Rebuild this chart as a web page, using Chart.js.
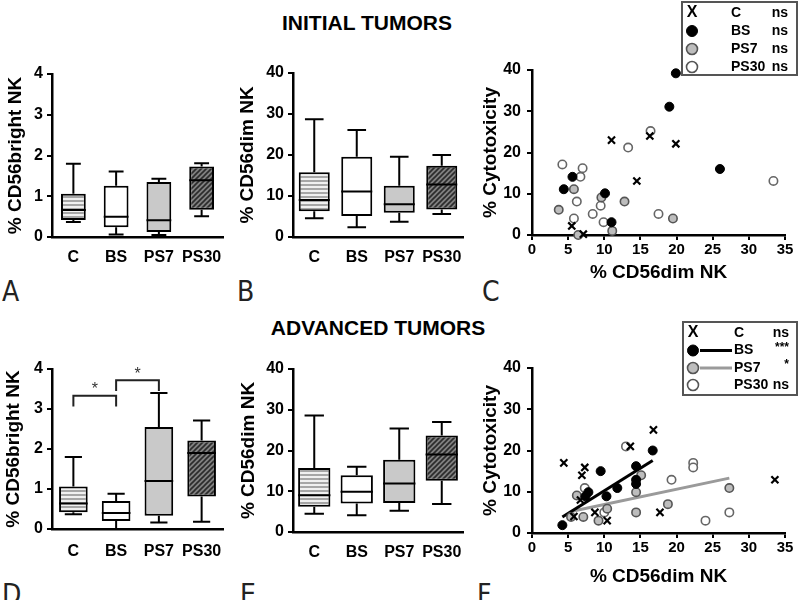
<!DOCTYPE html>
<html>
<head>
<meta charset="utf-8">
<script src="https://cdn.jsdelivr.net/npm/chart.js@4/dist/chart.umd.min.js"></script>
<style>
body { margin: 0; width: 800px; height: 600px; background: #fff; position: relative; overflow: hidden; font-family: "Liberation Sans", Arial, sans-serif; }
canvas { position: absolute; }
.head { position: absolute; width: 400px; text-align: center; font-weight: bold; font-size: 21px; color: #000; }
.letter { position: absolute; font-family: "Liberation Sans Narrow", "DejaVu Sans Condensed", sans-serif; font-size: 28px; color: #222; }
</style>
</head>
<body>
<div class="head" style="left:167px; top:11px">INITIAL TUMORS</div>
<div class="head" style="left:178px; top:316px">ADVANCED TUMORS</div>
<div class="letter" style="left:2px; top:275px">A</div>
<div class="letter" style="left:237px; top:275px">B</div>
<div class="letter" style="left:482px; top:275px">C</div>
<div class="letter" style="left:2px; top:578px">D</div>
<div class="letter" style="left:240px; top:578px">E</div>
<div class="letter" style="left:477px; top:578px">F</div>

<canvas id="chartA" width="240" height="260" style="left:0px; top:40px"></canvas>
<canvas id="chartB" width="250" height="260" style="left:232px; top:40px"></canvas>
<canvas id="chartC" width="328" height="300" style="left:472px; top:0px"></canvas>
<canvas id="chartD" width="240" height="270" style="left:0px; top:330px"></canvas>
<canvas id="chartE" width="250" height="270" style="left:232px; top:330px"></canvas>
<canvas id="chartF" width="328" height="300" style="left:472px; top:300px"></canvas>

<script>
const groups = ["C", "BS", "PS7", "PS30"];

// box plots, per group: [min, q1, median, q3, max]
const initBright = [[0.37, 0.42, 0.66, 1.06, 1.8], [0.06, 0.24, 0.5, 1.26, 1.61], [0.05, 0.12, 0.41, 1.35, 1.43], [0.51, 0.67, 1.39, 1.73, 1.81]];
const initDim = [[4.6, 6.3, 9, 15.8, 28.7], [2.4, 5.1, 11.1, 19.6, 26.1], [3.7, 5.9, 8, 12.5, 19.6], [5.6, 6.7, 12.8, 17.4, 20]];
const advBright = [[0.37, 0.42, 0.64, 1.06, 1.8], [0, 0.2, 0.4, 0.7, 0.88], [0.16, 0.33, 1.2, 2.55, 3.4], [0.18, 0.81, 1.9, 2.21, 2.71]];
const advDim = [[4.5, 6.2, 9, 15.7, 28.6], [4.1, 7, 9.9, 13.9, 16], [5.2, 7.1, 11.9, 17.7, 25.4], [6.9, 12.6, 19, 23.7, 27]];
// significance brackets: [from group, to group, level]
const advBrightSig = [[0, 1, 3.33], [1, 2, 3.72]];

// scatter: [% CD56dim NK, % cytotoxicity]
const initCtrl = [[11.0, 23.0], [16.3, 24.0], [19.9, 22.1], [14.5, 13.1], [5.5, 2.2], [7.1, 0.2]];
const initBS = [[19.9, 39.2], [19.0, 31.1], [26.0, 16.0], [5.6, 14.1], [4.4, 11.1], [10.1, 10.1], [11.0, 3.1]];
const initPS7 = [[3.7, 6.1], [5.8, 11.1], [9.6, 9.1], [12.8, 8.1], [19.5, 4.0], [6.4, 0], [11.1, 1.0]];
const initPS30 = [[4.2, 17.1], [7.0, 16.2], [6.7, 14.1], [13.3, 21.2], [16.4, 25.2], [6.2, 8.1], [5.8, 4.0], [8.4, 5.1], [9.5, 7.1], [9.9, 3.1], [17.5, 5.1], [33.4, 13.1]];
const initNotes = ["ns", "ns", "ns", "ns"];

const advCtrl = [[4.4, 17.0], [7.3, 15.9], [6.9, 14.0], [13.6, 21.0], [16.8, 25.0], [6.7, 8.0], [8.7, 5.0], [10.4, 3.0], [5.8, 4.0], [17.7, 5.0], [33.6, 12.9]];
const advBS = [[4.2, 1.9], [7.4, 8.9], [7.8, 9.9], [9.5, 15.0], [10.3, 8.9], [11.8, 10.9], [14.4, 16.2], [14.4, 12.9], [14.4, 11.9], [16.7, 20.0]];
const advPS7 = [[5.4, 3.9], [6.2, 9.1], [7.1, 3.9], [9.2, 3.0], [10.4, 5.9], [14.4, 9.9], [15.1, 14.0], [14.4, 5.0], [18.8, 7.0], [27.3, 10.9]];
const advPS30 = [[13.0, 21.0], [7.3, 10.9], [19.3, 12.9], [22.3, 17.0], [22.3, 15.9], [24.0, 3.0], [27.3, 5.0], [10.0, 5.0]];
const advBSLine = [[4.2, 3.9], [16.7, 17.6]];
const advPS7Line = [[5.4, 5.2], [27.3, 13.3]];
const advNotes = ["ns", "***", "*", "ns"];

Chart.defaults.font.family = '"Liberation Sans", Arial, sans-serif';
Chart.defaults.color = "#000";

function stripes() {
    let c = document.createElement("canvas");
    c.width = 4; c.height = 4;
    let g = c.getContext("2d");
    g.fillStyle = "#f0f0f0"; g.fillRect(0, 0, 4, 4);
    g.fillStyle = "#a6a6a6"; g.fillRect(0, 0, 4, 2);
    return g.createPattern(c, "repeat");
}

function hatch() {
    let c = document.createElement("canvas");
    c.width = 5; c.height = 5;
    let g = c.getContext("2d");
    g.fillStyle = "#808080"; g.fillRect(0, 0, 5, 5);
    g.strokeStyle = "#2b2b2b"; g.lineWidth = 1.6;
    g.beginPath();
    g.moveTo(-1, 6); g.lineTo(6, -1);
    g.moveTo(-1, 1); g.lineTo(1, -1);
    g.moveTo(4, 6); g.lineTo(6, 4);
    g.stroke();
    return g.createPattern(c, "repeat");
}

const boxFills = [stripes(), "#ffffff", "#c9c9c9", hatch()];

// whiskers, caps and median lines on top of the floating bars
const whiskers = {
    id: "whiskers",
    afterDatasetsDraw(chart) {
        let ctx = chart.ctx;
        let y = chart.scales.y;
        let stats = chart.data.datasets[0].stats;
        ctx.save();
        ctx.strokeStyle = "#000";
        ctx.lineWidth = 2;
        chart.getDatasetMeta(0).data.forEach((bar, i) => {
            let s = stats[i];
            let half = bar.width / 2;
            let cap = half * 0.6;
            let lo = y.getPixelForValue(s[0]), q1 = y.getPixelForValue(s[1]);
            let med = y.getPixelForValue(s[2]), q3 = y.getPixelForValue(s[3]);
            let hi = y.getPixelForValue(s[4]);
            ctx.beginPath();
            ctx.moveTo(bar.x, q3); ctx.lineTo(bar.x, hi);
            ctx.moveTo(bar.x - cap, hi); ctx.lineTo(bar.x + cap, hi);
            ctx.moveTo(bar.x, q1); ctx.lineTo(bar.x, lo);
            ctx.moveTo(bar.x - cap, lo); ctx.lineTo(bar.x + cap, lo);
            ctx.moveTo(bar.x - half, med); ctx.lineTo(bar.x + half, med);
            ctx.stroke();
        });
        let sig = chart.options.plugins.sigBars;
        if (sig && sig.pairs) {
            let x = chart.scales.x;
            ctx.strokeStyle = "#222";
            ctx.fillStyle = "#333";
            ctx.font = "16px \"Liberation Sans\", Arial, sans-serif";
            ctx.textAlign = "center";
            ctx.textBaseline = "middle";
            sig.pairs.forEach(p => {
                let x1 = x.getPixelForValue(p[0]), x2 = x.getPixelForValue(p[1]);
                let top = y.getPixelForValue(p[2]), foot = y.getPixelForValue(p[2] - 0.27);
                ctx.beginPath();
                ctx.moveTo(x1, foot); ctx.lineTo(x1, top); ctx.lineTo(x2, top); ctx.lineTo(x2, foot);
                ctx.stroke();
                ctx.fillText("*", (x1 + x2) / 2, top - 6);
            });
        }
        ctx.restore();
    }
};

function boxChart(id, stats, yMax, yStep, o) {
    return new Chart(document.getElementById(id), {
        type: "bar",
        data: {
            labels: groups,
            datasets: [{
                data: stats.map(s => [s[1], s[3]]),
                stats: stats,
                backgroundColor: boxFills,
                borderColor: "#000",
                borderWidth: 2,
                borderSkipped: false,
                barPercentage: o.bar,
                categoryPercentage: 1
            }]
        },
        options: {
            responsive: false,
            animation: false,
            devicePixelRatio: 1,
            layout: { padding: { top: o.top, right: o.right, left: 0, bottom: 0 } },
            plugins: {
                legend: { display: false },
                tooltip: { enabled: false },
                sigBars: { pairs: o.sig }
            },
            scales: {
                x: {
                    grid: { display: false, drawTicks: false },
                    border: { color: "#000", width: 2.5 },
                    ticks: { font: { size: 16, weight: "bold" }, padding: o.labPad, autoSkip: false, maxRotation: 0, minRotation: 0 },
                    afterFit: s => { s.height = o.xh; }
                },
                y: {
                    min: 0, max: yMax,
                    ticks: { stepSize: yStep, font: { size: 16, weight: "bold" }, padding: 4 },
                    grid: { drawOnChartArea: false, color: "#000", lineWidth: 2, tickLength: 5 },
                    border: { color: "#000", width: 2.5 },
                    title: { display: true, text: o.title, font: { size: 19, weight: "bold" }, padding: { top: o.titlePad, bottom: 0 } },
                    afterFit: s => { s.width = o.yw; }
                }
            }
        },
        plugins: [whiskers]
    });
}

// key drawn inside the scatter canvas
const keyBox = {
    id: "keyBox",
    afterDraw(chart, args, o) {
        let ctx = chart.ctx;
        let f = "bold 14px \"Liberation Sans\", Arial, sans-serif";
        ctx.save();
        ctx.strokeStyle = "#555";
        ctx.lineWidth = 2;
        ctx.strokeRect(o.x, o.y, o.w, o.h);
        ctx.textBaseline = "middle";
        groups.forEach((g, i) => {
            let ry = o.rows[i];
            if (i === 0) {
                ctx.textAlign = "center";
                ctx.font = "bold 16px \"Liberation Sans\", Arial, sans-serif";
                ctx.fillStyle = "#000";
                ctx.fillText("X", o.symX, ry);
            } else {
                ctx.beginPath();
                ctx.arc(o.symX, ry, 5.5, 0, Math.PI * 2);
                ctx.fillStyle = ["#000", "#000", "#bdbdbd", "#fff"][i];
                ctx.fill();
                ctx.lineWidth = i === 1 ? 1 : 1.6;
                ctx.strokeStyle = i === 1 ? "#000" : "#555";
                ctx.stroke();
            }
            if (o.lines && o.lines[i]) {
                ctx.beginPath();
                ctx.moveTo(o.lineX[0], ry); ctx.lineTo(o.lineX[1], ry);
                ctx.strokeStyle = o.lines[i];
                ctx.lineWidth = 3;
                ctx.stroke();
            }
            ctx.fillStyle = "#000";
            ctx.font = f;
            ctx.textAlign = "left";
            ctx.fillText(g, o.nameX, ry);
            let note = o.notes[i];
            ctx.textAlign = "right";
            if (note === "ns") {
                ctx.fillText(note, o.noteX, ry);
            } else {
                ctx.font = "bold 12px \"Liberation Sans\", Arial, sans-serif";
                ctx.fillText(note, o.noteX, ry - 3);
            }
        });
        ctx.restore();
    }
};

function pts(a) {
    return a.map(p => ({ x: p[0], y: p[1] }));
}

function scatterChart(id, sets, o) {
    let datasets = [
        { data: pts(sets[0]), pointStyle: "crossRot", pointRadius: 5, borderColor: "#000", backgroundColor: "#000", pointBorderWidth: 2.2, order: 1 },
        { data: pts(sets[1]), pointStyle: "circle", pointRadius: 4.5, borderColor: "#000", backgroundColor: "#000", pointBorderWidth: 1, order: 1 },
        { data: pts(sets[2]), pointStyle: "circle", pointRadius: 4.2, borderColor: "#555", backgroundColor: "#bdbdbd", pointBorderWidth: 1.6, order: 1 },
        { data: pts(sets[3]), pointStyle: "circle", pointRadius: 4.2, borderColor: "#666", backgroundColor: "#fff", pointBorderWidth: 1.6, order: 1 }
    ];
    (o.fits || []).forEach(f => {
        datasets.push({ type: "line", data: pts(f.data), borderColor: f.color, borderWidth: 3, pointRadius: 0, order: 5 });
    });
    datasets.forEach(d => { d.clip = false; });
    return new Chart(document.getElementById(id), {
        type: "scatter",
        data: { datasets: datasets },
        options: {
            responsive: false,
            animation: false,
            devicePixelRatio: 1,
            layout: { padding: { top: o.top, right: o.right, left: 0, bottom: 0 } },
            plugins: {
                legend: { display: false },
                tooltip: { enabled: false },
                keyBox: o.key
            },
            scales: {
                x: {
                    type: "linear", min: 0, max: 35,
                    ticks: { stepSize: 5, font: { size: 15, weight: "bold" }, padding: 1, maxRotation: 0 },
                    grid: { drawOnChartArea: false, color: "#000", lineWidth: 2, tickLength: 5 },
                    border: { color: "#000", width: 2.5 },
                    title: { display: true, text: "% CD56dim NK", font: { size: 19, weight: "bold" }, padding: { top: 0, bottom: o.xTitlePad } },
                    afterFit: s => { s.height = o.xh; }
                },
                y: {
                    min: 0, max: 40,
                    ticks: { stepSize: 10, font: { size: 16, weight: "bold" }, padding: 6 },
                    grid: { drawOnChartArea: false, color: "#000", lineWidth: 2, tickLength: 5 },
                    border: { color: "#000", width: 2.5 },
                    title: { display: true, text: "% Cytotoxicity", font: { size: 19, weight: "bold" }, padding: { top: 7, bottom: 0 } },
                    afterFit: s => { s.width = 60; }
                }
            }
        },
        plugins: [keyBox]
    });
}

boxChart("chartA", initBright, 4, 1, { bar: 0.58, top: 34, right: 17, xh: 63, yw: 52, labPad: 11, title: "% CD56bright NK", titlePad: 4 });
boxChart("chartB", initDim, 40, 10, { bar: 0.73, top: 33, right: 19, xh: 63, yw: 61, labPad: 11, title: "% CD56dim NK", titlePad: 4 });
boxChart("chartD", advBright, 4, 1, { bar: 0.67, top: 39, right: 17, xh: 71, yw: 52, labPad: 13, title: "% CD56bright NK", titlePad: 2, sig: advBrightSig });
boxChart("chartE", advDim, 40, 10, { bar: 0.76, top: 39, right: 19, xh: 68, yw: 61, labPad: 11, title: "% CD56dim NK", titlePad: 5 });

scatterChart("chartC", [initCtrl, initBS, initPS7, initPS30], {
    top: 70, right: 15, xh: 65, xTitlePad: 16,
    key: { x: 210, y: 2, w: 115, h: 73, rows: [13, 31, 49, 67], symX: 220, nameX: 259, noteX: 316, notes: initNotes }
});
scatterChart("chartF", [advCtrl, advBS, advPS7, advPS30], {
    top: 68, right: 15, xh: 67, xTitlePad: 12,
    fits: [{ data: advBSLine, color: "#000" }, { data: advPS7Line, color: "#9a9a9a" }],
    key: { x: 211, y: 22, w: 114, h: 73, rows: [33, 50.5, 68, 85], symX: 221, nameX: 262, noteX: 317, notes: advNotes,
           lines: [null, "#000", "#9a9a9a", null], lineX: [228, 260] }
});
</script>
</body>
</html>
